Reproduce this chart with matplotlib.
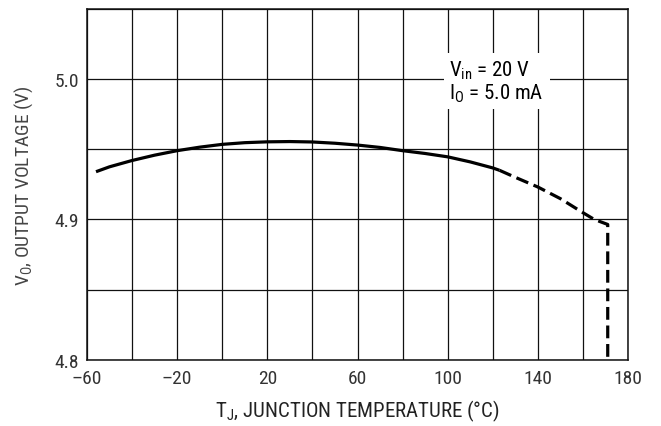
import matplotlib
matplotlib.use("Agg")
import matplotlib.pyplot as plt

# (solid part, then the dashed high-temperature part)
temp_solid = [-56, -50, -40, -30, -20, -10, 0, 10, 20, 30, 40, 50, 60, 70, 80, 90, 100, 110, 120, 123]
vout_solid = [4.934, 4.9375, 4.942, 4.9458, 4.949, 4.9515, 4.9535, 4.9547, 4.9553, 4.9555, 4.9552,
              4.9543, 4.953, 4.9513, 4.949, 4.947, 4.9446, 4.941, 4.9367, 4.935]
temp_dash = [123, 130, 140, 150, 160, 165, 171, 171]
vout_dash = [4.935, 4.930, 4.9231, 4.9148, 4.9048, 4.900, 4.8964, 4.80]

x_grid = list(range(-60, 181, 20))
x_labels = ["\u201360", "", "\u201320", "", "20", "", "60", "", "100", "", "140", "", "180"]
y_grid = [4.80, 4.85, 4.90, 4.95, 5.00, 5.05]
y_labels = ["4.8", "", "4.9", "", "5.0", ""]

plt.rcParams["font.family"] = ["Roboto Condensed", "Liberation Sans", "DejaVu Sans"]

fig = plt.figure(figsize=(6.61, 4.27), dpi=100)
ax = fig.add_axes([0.1316, 0.1553, 0.8185, 0.8213])

ax.set_xlim(-60, 180)
ax.set_ylim(4.80, 5.05)
ax.set_xticks(x_grid)
ax.set_xticklabels(x_labels)
ax.set_yticks(y_grid)
ax.set_yticklabels(y_labels)
ax.tick_params(length=0, labelsize=14, labelcolor="#333333")
ax.tick_params(axis="x", pad=7)
ax.tick_params(axis="y", pad=6)
ax.grid(True, color="#111111", lw=0.9)
for s in ax.spines.values():
    s.set_linewidth(1.1)
    s.set_color("#111111")

ax.plot(temp_solid, vout_solid, color="black", lw=2.3, solid_capstyle="butt", zorder=3)
ax.plot(temp_dash, vout_dash, color="black", lw=2.3, dashes=(4, 1.8),
        dash_capstyle="butt", zorder=3)

ax.text(100.8, 4.9985, "$\\mathregular{V_{in}}$ = 20 V\n$\\mathregular{I_O}$ = 5.0 mA",
        fontsize=15, ha="left", va="center", linespacing=1.0, zorder=4,
        bbox=dict(facecolor="white", edgecolor="none", pad=4))

ax.set_xlabel("$\\mathregular{T_J}$, JUNCTION TEMPERATURE (\u00b0C)", fontsize=15,
              color="#222222", labelpad=7)
ax.set_ylabel("$\\mathregular{V_O}$, OUTPUT VOLTAGE (V)", fontsize=14,
              color="#444444", labelpad=14)

fig.savefig("out.png", dpi=100)
